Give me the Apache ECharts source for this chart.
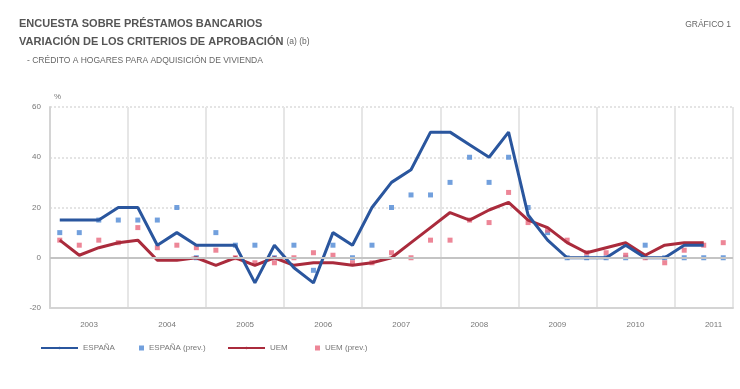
<!DOCTYPE html>
<html>
<head>
<meta charset="utf-8">
<script src="https://cdn.jsdelivr.net/npm/echarts@6/dist/echarts.min.js"></script>
<style>html,body{margin:0;padding:0;background:#fff}#c{width:740px;height:389px}</style>
</head>
<body>
<div id="c"></div>
<script>
// Quarterly categories 2003Q1 .. 2011Q3
const years = ['2003','2004','2005','2006','2007','2008','2009','2010','2011'];
const quarters = [];
years.forEach(y => { for (let q = 1; q <= 4; q++) quarters.push(y + 'T' + q); });
quarters.length = 35;

const yTicks = { min: -20, max: 60, interval: 20 };

const espana = [15,15,15,20,20,5,10,5,5,5,-10,5,-4,-10,10,5,20,30,35,50,50,45,40,50,17,7,0,0,0,5,0,0,5,5];
const espanaPrev = [10,10,15,15,15,15,20,0,10,5,5,0,5,-5,5,0,5,20,25,25,30,40,30,40,20,10,0,0,0,0,5,0,0,0,0];
const uem = [7,1,4,6,7,-1,-1,0,-3,0,-3,0,-3,-2,-2,-3,-2,0,6,12,18,15,19,22,15,12,6,2,4,6,1,5,6,6];
const uemPrev = [7,5,7,6,12,4,5,4,3,0,-2,-2,0,2,1,-2,-2,2,0,7,7,15,14,26,14,11,7,2,2,1,0,-2,3,5,6];

const C_BLUE = '#2a569e', C_LBLUE = '#4f88d4', C_RED = '#aa2b3c', C_PINK = '#e9687d';
const FONT = 'Liberation Sans';

const chart = echarts.init(document.getElementById('c'), null, { renderer: 'canvas' });

function legendItem(name, left, w, h) {
  return {
    data: [name], left: left, top: 339, itemWidth: w, itemHeight: h, itemGap: 4,
    selectedMode: false,
    textStyle: { fontSize: 8, color: '#777', fontFamily: FONT }
  };
}

chart.setOption({
  animation: false,
  backgroundColor: '#ffffff',
  title: [
    { text: 'ENCUESTA SOBRE PRÉSTAMOS BANCARIOS', left: 14, top: 13,
      textStyle: { fontSize: 11, fontWeight: 'bold', color: '#555', fontFamily: FONT } },
    { text: 'VARIACIÓN DE LOS CRITERIOS DE APROBACIÓN {s|(a) (b)}', left: 14, top: 31,
      textStyle: { fontSize: 11, fontWeight: 'bold', color: '#555', fontFamily: FONT,
        rich: { s: { fontSize: 8.5, fontWeight: 'normal', color: '#666', fontFamily: FONT } } } },
    { text: '- CRÉDITO A HOGARES PARA ADQUISICIÓN DE VIVIENDA', left: 22, top: 51,
      textStyle: { fontSize: 8.5, fontWeight: 'normal', color: '#666', fontFamily: FONT } },
    { text: 'GRÁFICO 1', right: 4, top: 15,
      textStyle: { fontSize: 8.5, fontWeight: 'normal', color: '#666', fontFamily: FONT } },
    { text: '%', left: 49, top: 88,
      textStyle: { fontSize: 8, fontWeight: 'normal', color: '#777', fontFamily: FONT } }
  ],
  legend: [
    legendItem('ESPAÑA', 35, 37, 3),
    legendItem('ESPAÑA (prev.)', 134, 5, 5),
    legendItem('UEM', 222, 37, 3),
    legendItem('UEM (prev.)', 310, 5, 5)
  ],
  grid: { left: 50, right: 7, top: 107, bottom: 81, containLabel: false },
  xAxis: [
    { type: 'category', data: quarters, boundaryGap: true, position: 'top',
      axisLine: { show: false }, axisTick: { show: false }, axisLabel: { show: false },
      splitLine: { show: true, interval: (i) => i % 4 === 0 && i > 0,
        lineStyle: { color: '#e6e6e6', width: 2 } } },
    { type: 'value', min: 0, max: 35, interval: 2, position: 'bottom',
      axisLine: { show: true, onZero: false, lineStyle: { color: '#d4d4d4', width: 2 } },
      axisTick: { show: false }, splitLine: { show: false },
      axisLabel: { margin: 13, fontSize: 8, color: '#777', fontFamily: FONT,
        formatter: (v) => (v % 4 === 2 ? years[(v - 2) / 4] : '') } }
  ],
  yAxis: {
    type: 'value', min: yTicks.min, max: yTicks.max, interval: yTicks.interval,
    axisLine: { show: true, lineStyle: { color: '#d4d4d4', width: 2 } },
    axisTick: { show: false },
    axisLabel: { fontSize: 8, color: '#777', margin: 9, fontFamily: FONT },
    splitLine: { show: true, lineStyle: { color: '#dcdcdc', width: 1.5, type: [2, 2] } }
  },
  series: [
    { name: 'zero', type: 'line', data: [], silent: true, z: 1,
      markLine: { silent: true, symbol: 'none', label: { show: false },
        lineStyle: { color: '#c4c4c4', width: 2, type: 'solid' }, data: [{ yAxis: 0 }] } },
    { name: 'ESPAÑA (prev.)', type: 'scatter', xAxisIndex: 0, data: espanaPrev, symbol: 'rect', symbolSize: 5,
      itemStyle: { color: C_LBLUE }, z: 2 },
    { name: 'UEM (prev.)', type: 'scatter', xAxisIndex: 0, data: uemPrev, symbol: 'rect', symbolSize: 5,
      itemStyle: { color: C_PINK }, z: 2 },
    { name: 'UEM', type: 'line', xAxisIndex: 0, data: uem, symbol: 'none',
      lineStyle: { color: C_RED, width: 3 }, itemStyle: { color: C_RED }, z: 3 },
    { name: 'ESPAÑA', type: 'line', xAxisIndex: 0, data: espana, symbol: 'none',
      lineStyle: { color: C_BLUE, width: 3 }, itemStyle: { color: C_BLUE }, z: 4 }
  ]
});
</script>
</body>
</html>
